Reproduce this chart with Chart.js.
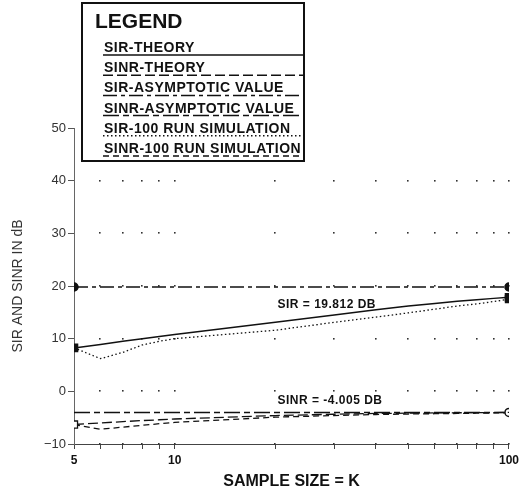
<!DOCTYPE html>
<html>
<head>
<meta charset="utf-8">
<script src="https://cdn.jsdelivr.net/npm/chart.js@4"></script>
<style>body{margin:0;background:#fff}</style>
</head>
<body>
<canvas id="sirChart" width="523" height="491"></canvas>
<script>
// sample size K and the curves (dB)
var kValues = [5, 6, 7, 8, 9, 10, 20, 30, 40, 50, 60, 70, 80, 90, 100];
var sirTheory = [8.25, 8.9, 9.5, 10.0, 10.4, 10.8, 13.1, 14.5, 15.5, 16.2, 16.7, 17.1, 17.4, 17.65, 17.85];
var sinrTheory = [-6.3, -6.0, -5.75, -5.55, -5.4, -5.25, -4.6, -4.35, -4.2, -4.15, -4.1, -4.07, -4.05, -4.03, -4.0];
var sirSim = [8.25, 6.2, 7.4, 8.8, 9.5, 10.0, 11.6, 13.1, 14.1, 14.9, 15.6, 16.2, 16.6, 17.05, 17.5];
var sinrSim = [-6.3, -7.2, -6.8, -6.45, -6.15, -5.9, -4.9, -4.6, -4.4, -4.3, -4.25, -4.2, -4.15, -4.1, -4.05];
var sirAsym = 19.812;
var sinrAsym = -4.005;
var yTicks = [-10, 0, 10, 20, 30, 40, 50];
var xLabels = [5, 10, 100];

var ink = "#111";
var font = "'Liberation Sans', Arial, sans-serif";

function pts(ys) {
    return kValues.map(function (k, i) { return { x: k, y: ys[i] }; });
}
function flat(v) {
    return [{ x: kValues[0], y: v }, { x: kValues[kValues.length - 1], y: v }];
}
// marker only on the first / last point
function ends(first, last) {
    return kValues.map(function (k, i) {
        if (i === 0) return first;
        if (i === kValues.length - 1) return last;
        return 0;
    });
}

// dotted grid: a dot at every x tick on every y tick (top row sits under the legend)
var gridDots = {
    id: "gridDots",
    beforeDatasetsDraw: function (chart) {
        var c = chart.ctx, xs = chart.scales.x, ys = chart.scales.y;
        c.save();
        c.fillStyle = "#333";
        kValues.forEach(function (k) {
            if (k === kValues[0]) return;
            yTicks.forEach(function (t) {
                if (t === yTicks[yTicks.length - 1]) return;
                c.fillRect(Math.round(xs.getPixelForValue(k)) - 1, Math.round(ys.getPixelForValue(t)) - 1, 1.6, 1.6);
            });
        });
        c.restore();
    }
};

// boxed legend with each line style drawn under its label, plus the value notes
var boxLegend = {
    id: "boxLegend",
    afterDraw: function (chart) {
        var c = chart.ctx, xs = chart.scales.x, ys = chart.scales.y;
        c.save();
        c.fillStyle = "#fff";
        c.fillRect(82, 3, 222, 158);
        c.strokeStyle = ink;
        c.lineWidth = 2;
        c.strokeRect(82, 3, 222, 158);
        c.fillStyle = ink;
        c.textBaseline = "alphabetic";
        c.font = "bold 21px " + font;
        c.fillText("LEGEND", 95, 28);
        c.font = "bold 14px " + font;
        c.letterSpacing = "0.5px";
        chart.data.datasets.forEach(function (ds, i) {
            var y = 55 + i * 20.2;
            c.fillText(ds.label, 104, y - 3, 198);
            c.beginPath();
            c.setLineDash(ds.borderDash || []);
            c.lineWidth = 1.5;
            c.moveTo(103, y);
            c.lineTo(303, y);
            c.stroke();
        });
        c.setLineDash([]);
        c.font = "bold 12px " + font;
        c.textBaseline = "middle";
        c.fillText("SIR = 19.812 DB", xs.getPixelForValue(20.3), ys.getPixelForValue(16.4));
        c.fillText("SINR = -4.005 DB", xs.getPixelForValue(20.3), ys.getPixelForValue(-1.8));
        c.restore();
    }
};

var ctx = document.getElementById("sirChart");
var chart = new Chart(ctx, {
    type: "line",
    data: {
        datasets: [{
                label: "SIR-THEORY",
                data: pts(sirTheory),
                borderColor: ink,
                borderWidth: 1.5,
                pointStyle: "rect",
                pointRadius: ends(5, 5),
                pointBackgroundColor: ink,
                pointBorderColor: ink
            },
            {
                label: "SINR-THEORY",
                data: pts(sinrTheory),
                borderColor: ink,
                borderWidth: 1.3,
                borderDash: [10, 4],
                pointStyle: "rect",
                pointRadius: ends(5, 0),
                pointBackgroundColor: "#fff",
                pointBorderColor: ink
            },
            {
                label: "SIR-ASYMPTOTIC VALUE",
                data: flat(sirAsym),
                borderColor: ink,
                borderWidth: 1.5,
                borderDash: [14, 4, 4, 4],
                pointStyle: "circle",
                pointRadius: 4,
                pointBackgroundColor: ink,
                pointBorderColor: ink
            },
            {
                label: "SINR-ASYMPTOTIC VALUE",
                data: flat(sinrAsym),
                borderColor: ink,
                borderWidth: 1.5,
                borderDash: [16, 4, 6, 4],
                pointStyle: "circle",
                pointRadius: [0, 4],
                pointBackgroundColor: "#fff",
                pointBorderColor: ink,
                pointBorderWidth: 1.5
            },
            {
                label: "SIR-100 RUN SIMULATION",
                data: pts(sirSim),
                borderColor: ink,
                borderWidth: 1.3,
                borderDash: [1.5, 2.5],
                pointStyle: "rect",
                pointRadius: ends(0, 5),
                pointBackgroundColor: ink,
                pointBorderColor: ink
            },
            {
                label: "SINR-100 RUN SIMULATION",
                data: pts(sinrSim),
                borderColor: ink,
                borderWidth: 1.3,
                borderDash: [6, 4],
                pointStyle: "crossRot",
                pointRadius: ends(0, 3.5),
                pointBorderColor: ink,
                pointBorderWidth: 1.5
            }
        ]
    },
    options: {
        responsive: false,
        animation: false,
        layout: { padding: { left: 0, right: 11, top: 128, bottom: 0 } },
        plugins: { legend: { display: false }, tooltip: { enabled: false } },
        elements: { line: { tension: 0 } },
        scales: {
            x: {
                type: "logarithmic",
                min: 5,
                max: 100,
                afterBuildTicks: function (s) {
                    s.ticks = kValues.map(function (k) { return { value: k }; });
                },
                afterFit: function (s) { s.height = 47; },
                ticks: {
                    autoSkip: false,
                    maxRotation: 0,
                    padding: 4,
                    color: ink,
                    font: { family: font, size: 12, weight: "bold" },
                    callback: function (v) { return xLabels.indexOf(v) >= 0 ? String(v) : ""; }
                },
                grid: { drawOnChartArea: false, tickLength: 5, color: "#444" },
                border: { color: "#444", width: 1 },
                title: {
                    display: true,
                    text: "SAMPLE SIZE = K",
                    color: ink,
                    padding: { top: 2, bottom: 0 },
                    font: { family: font, size: 16, weight: "bold" }
                }
            },
            y: {
                min: -10,
                max: 50,
                afterBuildTicks: function (s) {
                    s.ticks = yTicks.map(function (t) { return { value: t }; });
                },
                afterFit: function (s) { s.width = 74; },
                ticks: {
                    padding: 2,
                    color: "#333",
                    font: { family: font, size: 13 },
                    callback: function (v) { return v < 0 ? "\u2212" + Math.abs(v) : String(v); }
                },
                grid: { drawOnChartArea: false, tickLength: 6, color: "#555" },
                border: { color: "#666", width: 1, dash: [4, 2] },
                title: {
                    display: true,
                    text: "SIR AND SINR IN dB",
                    color: "#333",
                    padding: { top: 10, bottom: 0 },
                    font: { family: font, size: 14 }
                }
            }
        }
    },
    plugins: [gridDots, boxLegend]
});
</script>
</body>
</html>
